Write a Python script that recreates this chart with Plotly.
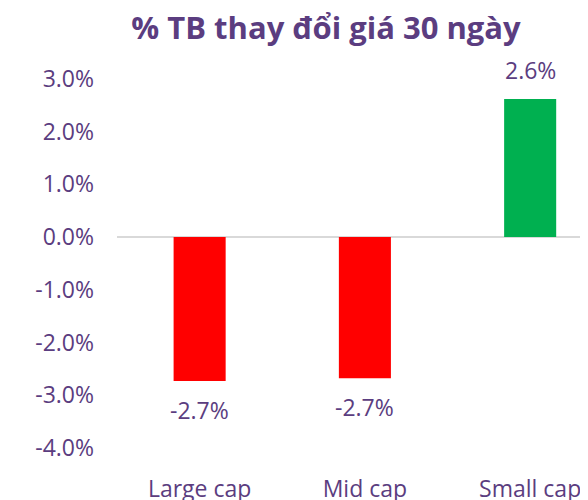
import plotly.graph_objects as go

categories = ["Large cap", "Mid cap", "Small cap"]
values = [-2.73, -2.68, 2.62]
labels = ["-2.7%", "-2.7%", "2.6%"]
colors = ["#FF0000", "#FF0000", "#00B050"]
tick_vals = [3, 2, 1, 0, -1, -2, -3, -4]
tick_text = ["3.0%", "2.0%", "1.0%", "0.0%", "-1.0%", "-2.0%", "-3.0%", "-4.0%"]

purple = "#5B3D80"
font_family = "Open Sans, sans-serif"

fig = go.Figure(go.Bar(
    x=categories, y=values,
    marker=dict(color=colors, line=dict(width=0)), width=0.315,
))

for c, v, t in zip(categories, values, labels):
    fig.add_annotation(x=c, y=v, text=t, showarrow=False, yanchor="middle",
                       yshift=29 if v >= 0 else -29,
                       font=dict(size=23, color=purple, family=font_family))

# page body has an 8px margin: figure is sized/offset accordingly
fig.update_layout(
    width=580, height=492,
    margin=dict(l=109, r=0, t=52, b=30, autoexpand=False),
    paper_bgcolor="white", plot_bgcolor="white",
    title=dict(text="<b>% TB thay đổi giá 30 ngày</b>", x=318/580, xanchor="center",
               y=1 - 20/492, yanchor="middle", automargin=False,
               font=dict(size=31, color=purple, family=font_family)),
    showlegend=False,
    xaxis=dict(range=[-0.5, 2.35], showgrid=False, showline=False, zeroline=False,
               automargin=False, ticklabelstandoff=3,
               tickfont=dict(size=23, color=purple, family=font_family), ticks=""),
    yaxis=dict(range=[-4.42, 3.36], tickvals=tick_vals, ticktext=tick_text,
               showgrid=False, showline=False, zeroline=True, zerolinecolor="#D9D9D9",
               zerolinewidth=2, ticklabelstandoff=22, automargin=False,
               tickfont=dict(size=23, color=purple, family=font_family)),
)

fig.write_html("out.html")
